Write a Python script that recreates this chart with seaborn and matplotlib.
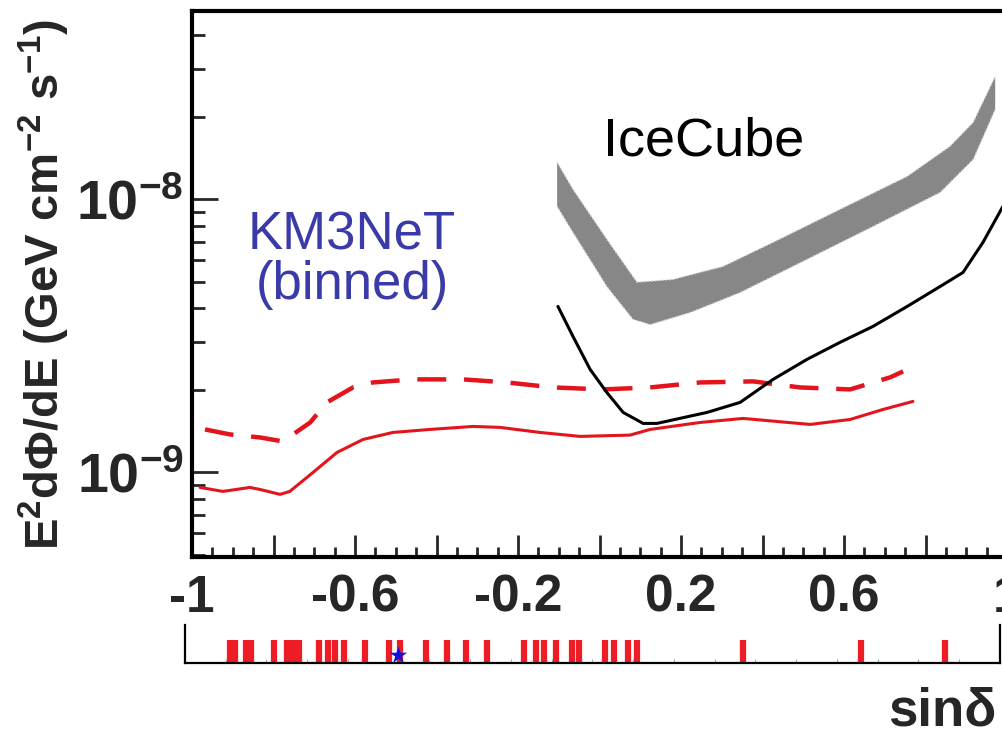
import numpy as np
import matplotlib
matplotlib.use("Agg")
import matplotlib.pyplot as plt
import seaborn as sns
from matplotlib.ticker import FixedLocator, FixedFormatter, LogLocator, MultipleLocator, NullFormatter, NullLocator

sns.set_style("white")
plt.rcParams['font.family'] = ['Liberation Sans', 'DejaVu Sans']
plt.rcParams['font.weight'] = 'bold'
plt.rcParams['mathtext.fontset'] = 'custom'
plt.rcParams['mathtext.rm'] = 'Liberation Sans:bold'
plt.rcParams['mathtext.it'] = 'Liberation Sans:bold'
plt.rcParams['mathtext.bf'] = 'Liberation Sans:bold'
plt.rcParams['mathtext.default'] = 'rm'

UNIT = 1e-9  # flux values below are in units of 1e-9 GeV cm^-2 s^-1

# KM3NeT (binned), solid
km3_sin = np.array([-0.980, -0.924, -0.858, -0.833, -0.784, -0.760, -0.703, -0.644, -0.580, -0.507, -0.416,
                    -0.310, -0.244, -0.146, -0.048, 0.075, 0.124, 0.247, 0.352, 0.517, 0.615, 0.696, 0.769])
km3_flux = np.array([0.881, 0.852, 0.881, 0.866, 0.831, 0.852, 1.0, 1.184, 1.321, 1.401, 1.437,
                     1.474, 1.462, 1.401, 1.355, 1.370, 1.437, 1.524, 1.577, 1.499, 1.563, 1.701, 1.82])

# KM3NeT (binned), dashed
km3d_sin = np.array([-0.968, -0.907, -0.833, -0.777, -0.710, -0.669, -0.605, -0.556, -0.458, -0.335,
                     -0.227, -0.114, 0.009, 0.124, 0.247, 0.377, 0.492, 0.615, 0.713, 0.745])
km3d_flux = np.array([1.437, 1.378, 1.343, 1.299, 1.524, 1.805, 2.048, 2.136, 2.192, 2.192,
                      2.136, 2.048, 2.014, 2.048, 2.136, 2.155, 2.048, 2.014, 2.229, 2.344])

# IceCube solid black
ic_sin = np.array([-0.102, -0.065, -0.023, 0.018, 0.058, 0.107, 0.141, 0.264, 0.345, 0.426,
                   0.509, 0.590, 0.671, 0.755, 0.836, 0.892, 0.941, 0.990])
ic_flux = np.array([4.055, 3.148, 2.384, 1.963, 1.659, 1.512, 1.512, 1.659, 1.805, 2.192,
                    2.594, 2.994, 3.426, 4.055, 4.80, 5.40, 6.96, 9.43])

# IceCube band
band_up_sin = np.array([-0.104, -0.065, 0.018, 0.092, 0.180, 0.303, 0.426, 0.590, 0.755, 0.860, 0.917, 0.971])
band_up = np.array([13.66, 10.88, 7.14, 4.97, 5.09, 5.68, 6.96, 9.19, 12.14, 15.64, 19.14, 28.2])
band_lo_sin = np.array([-0.104, -0.065, 0.018, 0.082, 0.124, 0.222, 0.345, 0.509, 0.671, 0.836, 0.917, 0.971])
band_lo = np.array([9.43, 7.57, 4.80, 3.64, 3.48, 3.85, 4.56, 6.03, 7.96, 10.61, 14.01, 21.37])

# event positions in sin(dec)
events = [-0.890, -0.877, -0.850, -0.838, -0.782, -0.750, -0.735, -0.720, -0.671, -0.649, -0.632,
          -0.610, -0.558, -0.499, -0.472, -0.409, -0.357, -0.310, -0.259, -0.168, -0.139, -0.119,
          -0.090, -0.050, -0.033, 0.031, 0.053, 0.087, 0.109, 0.369, 0.659, 0.865]
star_sin = -0.477

x_major = [-1, -0.8, -0.6, -0.4, -0.2, 0, 0.2, 0.4, 0.6, 0.8, 1]
x_labels = ['-1', '', '-0.6', '', '-0.2', '', '0.2', '', '0.6', '', '1']
y_major = [1e-9, 1e-8]
y_labels = [r'$10^{-9}$', r'$10^{-8}$']

W, H = 1003, 737
fig = plt.figure(figsize=(W / 100, H / 100), dpi=100)
ax = fig.add_axes([192 / W, 1 - 557 / H, 815 / W, 546 / H])

ax.fill(np.concatenate([band_up_sin, band_lo_sin[::-1]]),
        np.concatenate([band_up, band_lo[::-1]]) * UNIT, color='#878787', lw=0, zorder=1)
ax.plot(band_up_sin, band_up * UNIT, color='#d0d0d0', ls=':', lw=1.0, zorder=1.5)
ax.plot(band_lo_sin, band_lo * UNIT, color='#d0d0d0', ls=':', lw=1.0, zorder=1.5)

sns.lineplot(x=km3_sin, y=km3_flux * UNIT, color='#e3141c', lw=2.2, ax=ax, estimator=None, sort=False)
sns.lineplot(x=km3d_sin, y=km3d_flux * UNIT, color='#e3141c', lw=3.2, linestyle=(0, (6.5, 4)),
             ax=ax, estimator=None, sort=False)
sns.lineplot(x=ic_sin, y=ic_flux * UNIT, color='black', lw=2.2, ax=ax, estimator=None, sort=False)

ax.set_yscale('log')
ax.set_xlim(-1, 1)
ax.set_ylim(4.9e-10, 4.9e-8)
ax.set_xlabel('')
ax.set_ylabel('')

ax.xaxis.set_major_locator(FixedLocator(x_major))
ax.xaxis.set_major_formatter(FixedFormatter(x_labels))
ax.xaxis.set_minor_locator(MultipleLocator(0.05))
ax.yaxis.set_major_locator(FixedLocator(y_major))
ax.yaxis.set_major_formatter(FixedFormatter(y_labels))
ax.yaxis.set_minor_locator(LogLocator(base=10, subs=np.arange(2, 10), numticks=20))
ax.yaxis.set_minor_formatter(NullFormatter())

ax.tick_params(axis='x', which='major', direction='in', length=16, width=2, labelsize=37, pad=12,
               top=False, bottom=True)
ax.tick_params(axis='x', which='minor', direction='in', length=7, width=2, top=False, bottom=True)
ax.tick_params(axis='y', which='major', direction='in', length=19, width=2, labelsize=40, pad=6,
               left=True, right=False)
ax.tick_params(axis='y', which='minor', direction='in', length=9, width=2, left=True, right=False)
for s in ax.spines.values():
    s.set_linewidth(3)
    s.set_color('black')

fig.text(704 / W, 1 - 155 / H, 'IceCube', ha='center', va='baseline', fontsize=39,
         fontweight='normal', color='black')
fig.text(352 / W, 1 - 249 / H, 'KM3NeT', ha='center', va='baseline', fontsize=38,
         fontweight='normal', color='#3a3aa8')
fig.text(352 / W, 1 - 299 / H, '(binned)', ha='center', va='baseline', fontsize=38,
         fontweight='normal', color='#3a3aa8')

fig.text(72 / W, 1 - 284 / H, r'E$^{2}$dΦ/dE (GeV cm$^{-2}$ s$^{-1}$)', rotation=90,
         ha='right', va='center', fontsize=34)
fig.text(0.994, 1 - 726 / H, 'sinδ', ha='right', va='baseline', fontsize=38)

# event strip
ax2 = fig.add_axes([185 / W, 1 - 663 / H, 815 / W, 38 / H])
sns.rugplot(x=events, height=23 / 38, color='#ee1c24', linewidth=4.5, ax=ax2, expand_margins=False)
ax2.scatter([star_sin], [0.22], marker='*', s=170, color='#1010e0', zorder=5, linewidths=0)
ax2.set_xlim(-1, 1)
ax2.set_ylim(0, 1)
ax2.spines['top'].set_visible(False)
for k in ['left', 'right', 'bottom']:
    ax2.spines[k].set_linewidth(1.6)
    ax2.spines[k].set_color('black')
ax2.yaxis.set_major_locator(NullLocator())
ax2.xaxis.set_major_locator(MultipleLocator(0.1))
ax2.xaxis.set_major_formatter(NullFormatter())
ax2.tick_params(axis='x', which='major', direction='in', length=3, width=0.8, color='#aaaaaa',
                top=False, bottom=True)
ax2.set_xlabel('')
ax2.set_ylabel('')

fig.savefig('out.png', dpi=100)
